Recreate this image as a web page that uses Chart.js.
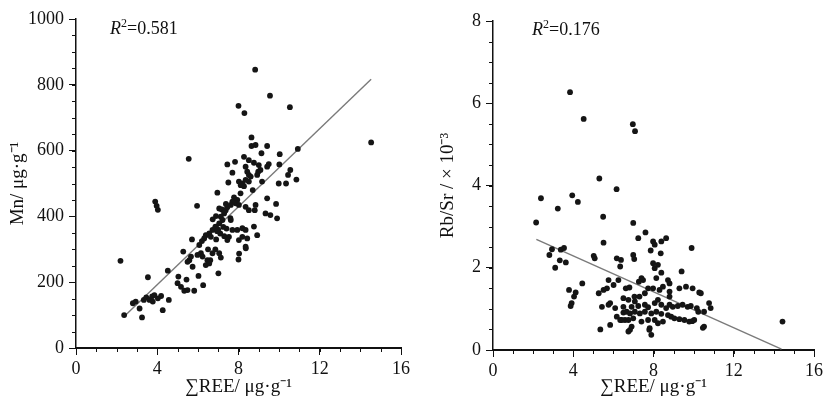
<!DOCTYPE html>
<html>
<head>
<meta charset="utf-8">
<script src="https://cdn.jsdelivr.net/npm/chart.js@4.4.1/dist/chart.umd.min.js"></script>
<style>
  html, body { margin: 0; padding: 0; background: #ffffff; }
  #wrap { position: relative; width: 826px; height: 406px; overflow: hidden; }
  canvas { position: absolute; top: 0; }
  #c1 { left: 0; }
  #c2 { left: 413px; }
</style>
</head>
<body>
<div id="wrap">
  <canvas id="c1" width="413" height="406"></canvas>
  <canvas id="c2" width="413" height="406"></canvas>
</div>
<script>
// ---------- Data ----------
const xTicks = [0, 4, 8, 12, 16];
const mnTicks = [0, 200, 400, 600, 800, 1000];
const rbTicks = [0, 2, 4, 6, 8];

const xTitle = "\u2211REE/ \u03BCg\u00B7g\u207B\u00B9";
const mnTitle = "Mn/ \u03BCg\u00B7g\u207B\u00B9";
const rbTitle = "Rb/Sr / \u00D7 10\u207B\u00B3";

const mnR2 = "0.581";
const rbR2 = "0.176";

// Left panel: ΣREE vs Mn
const mnX = [2.19,2.37,2.8,2.94,3.13,3.25,3.34,3.46,3.62,3.75,3.78,3.86,4.03,4.19,3.54,4.27,4.57,4.52,
  5.04,5.0,5.17,5.44,5.33,5.49,5.82,6.03,6.26,5.28,5.58,5.49,5.66,5.74,6.07,6.15,6.23,5.98,6.47,6.39,6.56,7.01,7.05,6.72,5.71,
  3.9,3.97,4.03,5.55,5.96,8.03,8.0,8.36,7.13,6.61,6.86,7.3,6.9,
  8.64,8.64,8.84,9.41,9.13,10.03,8.27,8.51,7.83,7.45,8.76,9.0,9.49,9.41,10.01,10.55,10.44,10.85,7.7,8.35,8.43,8.51,8.6,8.97,9.08,8.92,8.02,8.19,8.27,8.11,8.51,8.35,7.5,9.16,9.98,10.34,6.96,
  7.78,7.94,7.86,8.02,7.7,7.62,7.45,7.37,7.29,7.13,7.21,7.05,6.88,6.72,6.56,6.39,6.31,6.64,
  9.41,9.85,8.84,8.8,9.33,9.57,9.9,8.35,8.51,
  7.62,7.7,7.94,8.19,8.35,8.76,8.92,8.43,7.53,7.45,8.02,8.19,8.35,
  7.38,7.18,7.05,7.31,6.89,6.73,7.0,7.25,7.41,6.86,7.1,
  6.5,6.95,7.6,8.1,8.7,6.2,
  8.82,8.0,8.29,9.55,10.53,14.53,10.92];
const mnY = [265,100,136,141,120,93,146,154,146,157,141,161,151,158,215,115,146,235,
  217,197,186,208,174,176,174,219,191,293,267,262,278,247,313,288,278,283,267,252,257,227,288,288,330,
  445,432,420,575,432,287,269,303,275,267,300,340,330,
  640,614,617,614,592,589,581,571,566,558,563,556,559,551,558,541,526,512,533,551,536,526,521,536,541,526,506,500,492,495,506,511,503,506,500,500,472,
  458,450,440,435,445,435,428,419,409,399,389,379,369,359,348,343,333,338,
  455,438,435,419,409,404,394,429,419,
  389,359,359,364,359,369,343,333,338,328,328,338,308,
  438,421,424,414,401,391,360,368,363,368,348,
  300,355,395,470,480,325,
  846,736,714,767,732,625,605];
const mnFitX = [2.42, 14.53];
const mnFitY = [99, 817];

// Right panel: ΣREE vs Rb/Sr
const rbX = [3.84,4.52,6.97,7.08,5.3,6.16,2.39,3.95,4.23,3.23,2.15,5.49,14.43,
  2.94,3.38,3.54,2.81,3.33,3.63,3.1,5.51,5.02,5.07,4.45,3.79,4.12,4.04,3.92,3.87,6.17,6.38,6.34,6.25,6.01,5.76,5.68,5.51,5.27,5.84,5.76,6.09,5.43,5.35,5.84,6.17,6.34,6.5,6.58,
  6.99,7.6,7.24,7.98,8.39,8.63,8.06,9.9,7.86,8.36,6.99,7.04,7.98,8.06,8.22,8.39,9.4,8.14,7.4,7.27,8.72,8.8,9.29,9.62,9.95,10.28,7.98,8.3,8.47,7.48,7.73,7.57,8.8,8.8,
  6.5,6.75,7.07,6.91,7.24,7.57,7.73,8.06,8.22,8.39,8.63,8.8,8.96,9.21,9.45,9.7,9.86,10.16,10.23,6.5,6.66,6.83,7.07,7.32,7.57,7.89,8.14,8.39,8.72,8.88,9.04,9.29,9.54,9.78,6.42,6.75,6.99,7.4,7.73,8.06,8.22,8.47,7.81,7.89,6.91,6.83,10.52,10.85,10.77,10.03,
  6.62,6.8,7.3,7.05,10.36,10.52,6.75,7.79,9.93,10.46];
const rbY = [6.27,5.62,5.49,5.32,4.17,3.91,3.69,3.76,3.6,3.44,3.1,3.24,0.69,
  2.45,2.44,2.48,2.31,2.18,2.13,2.0,2.61,2.29,2.23,1.62,1.46,1.4,1.3,1.14,1.07,2.23,2.19,2.03,1.7,1.58,1.7,1.5,1.46,1.38,1.14,1.1,1.02,1.05,0.5,0.61,0.81,0.73,0.91,0.73,
  3.09,2.86,2.72,2.64,2.64,2.72,2.56,2.48,2.42,2.35,2.31,2.21,2.11,1.99,2.07,1.88,1.91,1.75,1.75,1.66,1.7,1.62,1.5,1.54,1.5,1.4,1.5,1.46,1.54,1.7,1.5,1.38,1.42,1.3,
  1.26,1.22,1.18,1.05,1.07,1.1,1.04,1.14,1.22,1.1,1.02,1.1,1.05,1.07,1.1,1.05,1.07,1.02,0.93,1.05,0.93,0.89,0.93,0.89,0.93,0.89,0.93,0.88,0.85,0.81,0.77,0.75,0.73,0.69,0.73,0.73,0.77,0.69,0.73,0.73,0.65,0.69,0.53,0.37,0.57,0.49,0.57,1.02,1.14,0.73,
  1.5,1.52,1.3,1.3,1.38,0.93,0.45,0.49,0.7,0.54];
const rbFitX = [2.16, 14.38];
const rbFitY = [2.69, 0.02];

// ---------- Helpers ----------
const FONT = "'Liberation Serif', 'Times New Roman', serif";

function pts(xs, ys) { return xs.map((x, i) => ({ x: x, y: ys[i] })); }

const minorTicksPlugin = {
  id: 'minorTicks',
  afterDraw(chart, args, opts) {
    const ctx = chart.ctx;
    const xs = chart.scales.x, ys = chart.scales.y;
    const area = chart.chartArea;
    ctx.save();
    ctx.strokeStyle = '#111';
    ctx.lineWidth = 1;
    for (let v = xs.min; v <= xs.max + 1e-9; v += opts.xStep) {
      const px = Math.round(xs.getPixelForValue(v)) + 0.5;
      ctx.beginPath(); ctx.moveTo(px, area.bottom); ctx.lineTo(px, area.bottom + 4); ctx.stroke();
    }
    for (let v = ys.min; v <= ys.max + 1e-9; v += opts.yStep) {
      const py = Math.round(ys.getPixelForValue(v)) + 0.5;
      ctx.beginPath(); ctx.moveTo(area.left, py); ctx.lineTo(area.left - 4, py); ctx.stroke();
    }
    // R^2 annotation
    ctx.fillStyle = '#111';
    ctx.textBaseline = 'alphabetic';
    let x = opts.r2x, y = opts.r2y;
    ctx.font = "italic 18px " + FONT;
    ctx.fillText('R', x, y);
    x += ctx.measureText('R').width;
    ctx.font = "12px " + FONT;
    ctx.fillText('2', x, y - 7);
    x += ctx.measureText('2').width;
    ctx.font = "18px " + FONT;
    ctx.fillText('=' + opts.r2, x, y);
    ctx.restore();
  }
};

function makeChart(id, xs, ys, fx, fy, yTicks, yMax, yTitle, cfg) {
  return new Chart(document.getElementById(id), {
    type: 'scatter',
    data: {
      datasets: [
        {
          type: 'line',
          data: pts(fx, fy),
          borderColor: '#7a7a7a',
          borderWidth: 1.4,
          pointRadius: 0,
          fill: false,
          order: 2
        },
        {
          data: pts(xs, ys),
          backgroundColor: '#151515',
          borderColor: '#151515',
          borderWidth: 0,
          pointRadius: 2.9,
          order: 1
        }
      ]
    },
    options: {
      responsive: false,
      animation: false,
      events: [],
      layout: { padding: { top: cfg.top, right: cfg.right, left: 0, bottom: 0 } },
      plugins: {
        legend: { display: false },
        tooltip: { enabled: false },
        minorTicks: { xStep: 1, yStep: cfg.yMinor, r2: cfg.r2, r2x: cfg.r2x, r2y: cfg.r2y }
      },
      scales: {
        x: {
          type: 'linear',
          min: 0, max: 16,
          afterBuildTicks: s => { s.ticks = xTicks.map(v => ({ value: v })); },
          afterFit: s => { s.height = cfg.xH; },
          grid: { drawOnChartArea: false, drawTicks: true, tickLength: 7, tickColor: '#111', tickWidth: 1 },
          border: { display: true, color: '#111', width: 2 },
          ticks: { color: '#111', font: { family: FONT, size: 18 }, padding: 3, maxRotation: 0,
                   callback: v => String(v) },
          title: { display: true, text: xTitle, color: '#111', font: { family: FONT, size: 19 }, padding: { top: 0, bottom: 8 } }
        },
        y: {
          type: 'linear',
          min: 0, max: yMax,
          afterBuildTicks: s => { s.ticks = yTicks.map(v => ({ value: v })); },
          afterFit: s => { s.width = cfg.yW; },
          grid: { drawOnChartArea: false, drawTicks: true, tickLength: 7, tickColor: '#111', tickWidth: 1 },
          border: { display: true, color: '#111', width: 1.5 },
          ticks: { color: '#111', font: { family: FONT, size: 18 }, padding: 5,
                   callback: v => String(v) },
          title: { display: true, text: yTitle, color: '#111', font: { family: FONT, size: 19 }, padding: { top: cfg.yTitlePad, bottom: 0 } }
        }
      }
    },
    plugins: [minorTicksPlugin]
  });
}

makeChart('c1', mnX, mnY, mnFitX, mnFitY, mnTicks, 1000, mnTitle,
  { top: 19, right: 10, xH: 58, yW: 76, yMinor: 50, r2: mnR2, r2x: 110, r2y: 34, yTitlePad: 7 });
makeChart('c2', rbX, rbY, rbFitX, rbFitY, rbTicks, 8, rbTitle,
  { top: 21, right: 8, xH: 56, yW: 80, yMinor: 0.5, r2: rbR2, r2x: 119, r2y: 35, yTitlePad: 24 });
</script>
</body>
</html>
